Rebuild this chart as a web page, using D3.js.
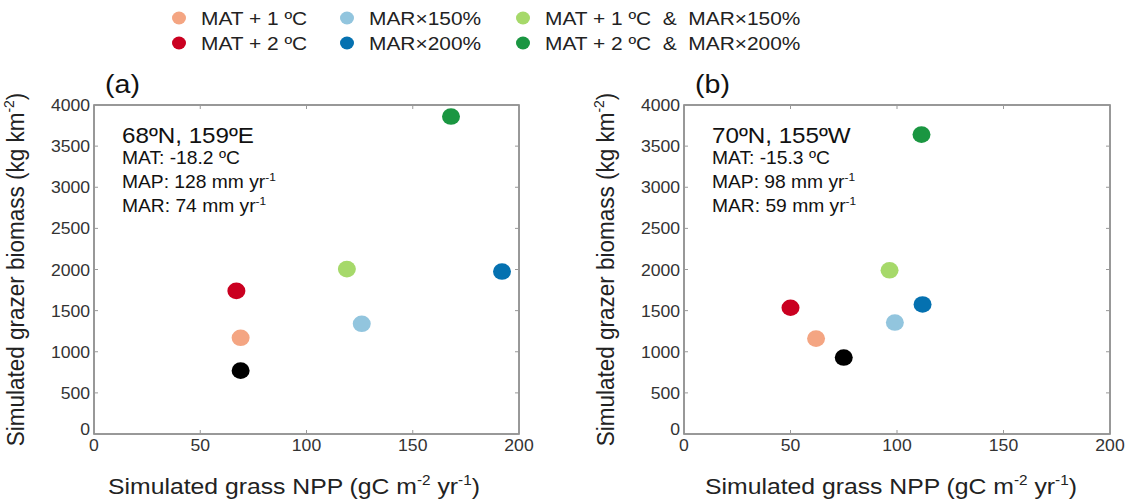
<!DOCTYPE html>
<html>
<head>
<meta charset="utf-8">
<script src="https://cdn.jsdelivr.net/npm/d3@7"></script>
<style>
  body { margin: 0; background: #fff; }
  svg { font-family: "Liberation Sans", Arial, sans-serif; }
</style>
</head>
<body>
<svg width="1132" height="504"></svg>
<script>
// scenarios, in legend order (baseline first, no legend entry)
const scenarios = ["Baseline", "MAT + 1 ºC", "MAT + 2 ºC", "MAR×150%", "MAR×200%",
                   "MAT + 1 ºC  &  MAR×150%", "MAT + 2 ºC  &  MAR×200%"];
const colors = ["#000000", "#f4a582", "#ca0020", "#92c5de", "#0571b0", "#a6d96a", "#1a9641"];

// panel (a) 68ºN, 159ºE
const nppA = [69, 69, 67, 126, 192, 119, 168];
const biomassA = [770, 1170, 1740, 1340, 1975, 2005, 3860];
// panel (b) 70ºN, 155ºW
const nppB = [75, 62, 50, 99, 112, 96.5, 111.5];
const biomassB = [930, 1160, 1535, 1355, 1575, 1990, 3640];

const xTicks = [0, 50, 100, 150, 200];
const yTicks = [0, 500, 1000, 1500, 2000, 2500, 3000, 3500, 4000];

const panels = [
  {tag: "(a)", site: "68ºN, 159ºE", mat: "MAT: -18.2 ºC", map: "MAP: 128 mm yr", mar: "MAR: 74 mm yr",
   x: nppA, y: biomassA, left: 94, right: 519, labelX: 294},
  {tag: "(b)", site: "70ºN, 155ºW", mat: "MAT: -15.3 ºC", map: "MAP: 98 mm yr", mar: "MAR: 59 mm yr",
   x: nppB, y: biomassB, left: 684, right: 1110, labelX: 891}
];

const plotTop = 105, plotBottom = 434;
const stretch = 1.1; // the figure is a little wider than tall
const svg = d3.select("svg");

// text placed at (x, y) and widened like the rest of the figure
function wideText(parent, x, y, size, rotate) {
  return parent.append("text")
    .attr("transform", `translate(${x}, ${y}) scale(${stretch}, 1)` + (rotate ? ` rotate(${rotate})` : ""))
    .attr("font-size", size + "px");
}

function sup(textSel, exp, size) {
  const shift = Math.round(size * 0.42);
  textSel.append("tspan").attr("dy", -shift).attr("font-size", (size * 0.62) + "px").text(exp);
  return shift;
}

// legend
const legendItems = scenarios.slice(1).map((s, i) => ({name: s, color: colors[i + 1]}));
const legendCols = [179, 347, 523];
const legendRows = [18, 43];
legendItems.forEach((d, i) => {
  const col = Math.floor(i / 2), row = i % 2;
  const cx = legendCols[col], cy = legendRows[row];
  svg.append("ellipse")
    .attr("cx", cx).attr("cy", cy).attr("rx", 7).attr("ry", 6.5)
    .attr("fill", d.color);
  wideText(svg, cx + 22, cy + 7, 19)
    .attr("fill", "#222")
    .style("white-space", "pre")
    .text(d.name);
});

panels.forEach((p) => {
  const x = d3.scaleLinear().domain([0, 200]).range([p.left, p.right]);
  const y = d3.scaleLinear().domain([0, 4000]).range([plotBottom, plotTop]);
  const g = svg.append("g");

  // frame
  g.append("rect")
    .attr("x", p.left).attr("y", plotTop)
    .attr("width", p.right - p.left).attr("height", plotBottom - plotTop)
    .attr("fill", "none").attr("stroke", "#777").attr("stroke-width", 1.5);

  // inward ticks on all sides
  const tickColor = "#999";
  g.selectAll("line.xt").data(xTicks).enter().append("line")
    .attr("x1", (d) => x(d)).attr("x2", (d) => x(d))
    .attr("y1", plotBottom).attr("y2", plotBottom - 4)
    .attr("stroke", tickColor);
  g.selectAll("line.xt2").data(xTicks).enter().append("line")
    .attr("x1", (d) => x(d)).attr("x2", (d) => x(d))
    .attr("y1", plotTop).attr("y2", plotTop + 4)
    .attr("stroke", tickColor);
  g.selectAll("line.yt").data(yTicks).enter().append("line")
    .attr("x1", p.left).attr("x2", p.left + 4)
    .attr("y1", (d) => y(d)).attr("y2", (d) => y(d))
    .attr("stroke", tickColor);
  g.selectAll("line.yt2").data(yTicks).enter().append("line")
    .attr("x1", p.right).attr("x2", p.right - 4)
    .attr("y1", (d) => y(d)).attr("y2", (d) => y(d))
    .attr("stroke", tickColor);

  // tick labels
  xTicks.forEach((t) => {
    wideText(g, x(t), plotBottom + 17, 16)
      .attr("text-anchor", "middle").attr("fill", "#333").text(t);
  });
  yTicks.forEach((t) => {
    wideText(g, p.left - 4, y(t) + 6 - (t === 0 ? 5 : 0), 16)
      .attr("text-anchor", "end").attr("fill", "#333").text(t);
  });

  // axis labels
  const xl = wideText(g, p.labelX, 494, 22.5)
    .attr("text-anchor", "middle").attr("fill", "#222");
  xl.append("tspan").text("Simulated grass NPP (gC m");
  let s = sup(xl, "-2", 22.5);
  xl.append("tspan").attr("dy", s).text(" yr");
  s = sup(xl, "-1", 22.5);
  xl.append("tspan").attr("dy", s).text(")");

  const yl = wideText(g, p.left - 70, (plotTop + plotBottom) / 2, 22.5, -90)
    .attr("text-anchor", "middle").attr("fill", "#222");
  yl.append("tspan").text("Simulated grazer biomass (kg km");
  s = sup(yl, "-2", 22.5);
  yl.append("tspan").attr("dy", s).text(")");

  // panel tag
  wideText(g, p.left + 11, 93, 26).attr("fill", "#111").text(p.tag);

  // site annotation
  const ax = p.left + 28;
  wideText(g, ax, 143, 22).attr("fill", "#111").text(p.site);
  wideText(g, ax, 164, 17.5).attr("fill", "#111").text(p.mat);
  const mp = wideText(g, ax, 188, 17.5).attr("fill", "#111");
  mp.append("tspan").text(p.map);
  sup(mp, "-1", 17.5);
  const mr = wideText(g, ax, 212, 17.5).attr("fill", "#111");
  mr.append("tspan").text(p.mar);
  sup(mr, "-1", 17.5);

  // points
  g.selectAll("ellipse.pt")
    .data(p.x.map((v, i) => ({npp: v, bio: p.y[i], color: colors[i]})))
    .enter()
    .append("ellipse")
    .attr("cx", (d) => x(d.npp))
    .attr("cy", (d) => y(d.bio))
    .attr("rx", 9).attr("ry", 8.3)
    .attr("fill", (d) => d.color);
});
</script>
</body>
</html>
